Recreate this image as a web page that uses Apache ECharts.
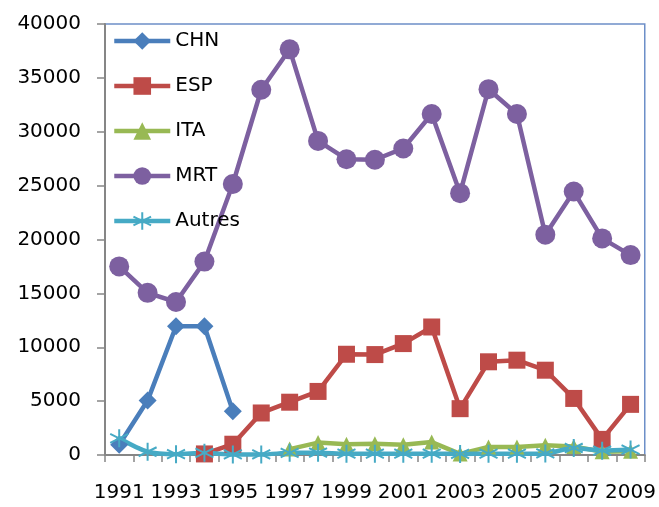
<!DOCTYPE html>
<html>
<head>
<meta charset="utf-8">
<script src="https://cdn.jsdelivr.net/npm/echarts@6/dist/echarts.min.js"></script>
<style>
  html, body { margin: 0; padding: 0; background: #fff; }
  #chart { width: 659px; height: 507px; }
</style>
</head>
<body>
<div id="chart"></div>
<script>
// values
const years = ['1991', '1992', '1993', '1994', '1995', '1996', '1997', '1998', '1999', '2000',
  '2001', '2002', '2003', '2004', '2005', '2006', '2007', '2008', '2009'];
const chn = [950, 5050, 11950, 11950, 4070, null, null, null, null, null,
  null, null, null, null, null, null, null, null, null];
const esp = [null, null, null, 100, 1000, 3900, 4900, 5900, 9350, 9320,
  10340, 11880, 4300, 8650, 8800, 7870, 5250, 1450, 4700];
const ita = [null, null, null, null, null, null, 550, 1150, 1000, 1050,
  950, 1200, 100, 750, 750, 900, 800, 300, 350];
const mrt = [17500, 15050, 14200, 17950, 25150, 33900, 37650, 29150, 27450, 27400,
  28450, 31650, 24300, 33950, 31650, 20450, 24450, 20100, 18550];
const autres = [1550, 300, 80, 200, 50, 50, 200, 220, 120, 120,
  120, 120, 100, 120, 120, 150, 650, 400, 500];

const font = 'DejaVu Sans';
const starPath = 'path://M5,0L5,10M0.7,2.5L9.3,7.5M0.7,7.5L9.3,2.5';

function lineSeries(name, data, color, symbol, size, extra) {
  return Object.assign({
    name: name,
    type: 'line',
    data: data,
    symbol: symbol,
    symbolSize: size,
    showSymbol: true,
    showAllSymbol: true,
    connectNulls: false,
    lineStyle: { color: color, width: 4.5 },
    itemStyle: { color: color },
    emphasis: { disabled: true }
  }, extra || {});
}

const chart = echarts.init(document.getElementById('chart'));
chart.setOption({
  animation: false,
  grid: {
    left: 105, top: 24, right: 14, bottom: 52,
    show: true,
    borderColor: '#6d8fc8',
    borderWidth: 1.5
  },
  legend: {
    orient: 'vertical',
    left: 107,
    top: 26,
    itemWidth: 56,
    itemHeight: 22,
    itemGap: 25,
    lineStyle: { width: 4.5 },
    textStyle: { fontFamily: font, fontSize: 20, color: '#000', lineHeight: 20 },
    data: ['CHN', 'ESP', 'ITA', 'MRT', 'Autres']
  },
  xAxis: {
    type: 'category',
    data: years,
    boundaryGap: true,
    axisLine: { lineStyle: { color: '#868686', width: 2 } },
    axisTick: { show: true, interval: 0, length: 7, lineStyle: { color: '#868686', width: 1.5 } },
    axisLabel: { interval: 1, margin: 28, fontFamily: font, fontSize: 20, color: '#000' },
    splitLine: { show: false }
  },
  yAxis: {
    type: 'value',
    min: 0,
    max: 40000,
    interval: 5000,
    axisLine: { show: true, lineStyle: { color: '#868686', width: 2 } },
    axisTick: { show: true, length: 8, lineStyle: { color: '#868686', width: 1.5 } },
    axisLabel: {
      margin: 24, fontFamily: font, fontSize: 20, color: '#000',
      formatter: (v) => String(v)
    },
    splitLine: { show: false }
  },
  series: [
    lineSeries('CHN', chn, '#4a7ebb', 'diamond', 18),
    lineSeries('ESP', esp, '#be4b48', 'rect', 17),
    lineSeries('ITA', ita, '#98b954', 'triangle', 15),
    lineSeries('MRT', mrt, '#7d60a0', 'circle', 20),
    lineSeries('Autres', autres, '#46aac5', starPath, 18, {
      smooth: 0.3,
      itemStyle: { color: 'rgba(0,0,0,0)', borderColor: '#46aac5', borderWidth: 2 }
    })
  ]
});
</script>
</body>
</html>
